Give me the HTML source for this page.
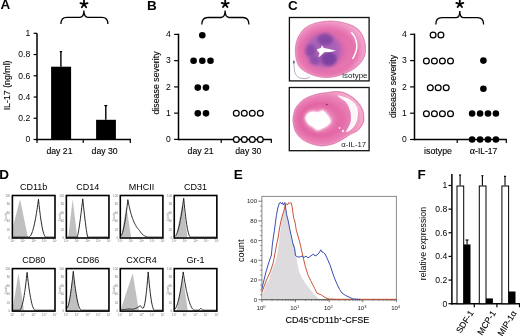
<!DOCTYPE html><html><head><meta charset="utf-8"><style>html,body{margin:0;padding:0;background:#fff;overflow:hidden;}svg{display:block;font-family:"Liberation Sans",sans-serif;will-change:transform;}</style></head><body><svg width="520" height="336" viewBox="0 0 520 336" font-family="Liberation Sans, sans-serif">
<rect width="520" height="336" fill="#fff"/>
<text x="0.60" y="9.40" font-size="13.5" text-anchor="start" font-weight="bold" fill="#000" >A</text>
<text x="147.10" y="9.60" font-size="13.5" text-anchor="start" font-weight="bold" fill="#000" >B</text>
<text x="288.10" y="9.60" font-size="13.5" text-anchor="start" font-weight="bold" fill="#000" >C</text>
<text x="-0.70" y="178.70" font-size="13.5" text-anchor="start" font-weight="bold" fill="#000" >D</text>
<text x="233.80" y="178.90" font-size="13.5" text-anchor="start" font-weight="bold" fill="#000" >E</text>
<text x="417.50" y="178.70" font-size="13.5" text-anchor="start" font-weight="bold" fill="#000" >F</text>
<line x1="37.00" y1="33.30" x2="37.00" y2="140.25" stroke="#000" stroke-width="1.5" />
<line x1="36.25" y1="139.50" x2="131.00" y2="139.50" stroke="#000" stroke-width="1.5" />
<line x1="33.60" y1="139.50" x2="37.00" y2="139.50" stroke="#000" stroke-width="1.2" />
<text x="30.30" y="142.30" font-size="8.6" text-anchor="end" font-weight="normal" fill="#000" >0</text>
<line x1="33.60" y1="118.26" x2="37.00" y2="118.26" stroke="#000" stroke-width="1.2" />
<text x="30.30" y="121.06" font-size="8.6" text-anchor="end" font-weight="normal" fill="#000" >0.2</text>
<line x1="33.60" y1="97.02" x2="37.00" y2="97.02" stroke="#000" stroke-width="1.2" />
<text x="30.30" y="99.82" font-size="8.6" text-anchor="end" font-weight="normal" fill="#000" >0.4</text>
<line x1="33.60" y1="75.78" x2="37.00" y2="75.78" stroke="#000" stroke-width="1.2" />
<text x="30.30" y="78.58" font-size="8.6" text-anchor="end" font-weight="normal" fill="#000" >0.6</text>
<line x1="33.60" y1="54.54" x2="37.00" y2="54.54" stroke="#000" stroke-width="1.2" />
<text x="30.30" y="57.34" font-size="8.6" text-anchor="end" font-weight="normal" fill="#000" >0.8</text>
<line x1="33.60" y1="33.30" x2="37.00" y2="33.30" stroke="#000" stroke-width="1.2" />
<text x="30.30" y="36.10" font-size="8.6" text-anchor="end" font-weight="normal" fill="#000" >1</text>
<line x1="37.00" y1="139.50" x2="37.00" y2="143.00" stroke="#000" stroke-width="1.2" />
<line x1="83.20" y1="139.50" x2="83.20" y2="143.00" stroke="#000" stroke-width="1.2" />
<line x1="130.30" y1="139.50" x2="130.30" y2="143.00" stroke="#000" stroke-width="1.2" />
<rect x="51.10" y="66.70" width="20.00" height="72.80" fill="#000" stroke="none" stroke-width="0"/>
<rect x="96.10" y="119.80" width="19.80" height="19.70" fill="#000" stroke="none" stroke-width="0"/>
<line x1="60.90" y1="66.70" x2="60.90" y2="51.60" stroke="#000" stroke-width="1.4" />
<line x1="59.70" y1="51.60" x2="62.10" y2="51.60" stroke="#000" stroke-width="1.2" />
<line x1="105.80" y1="119.80" x2="105.80" y2="105.60" stroke="#000" stroke-width="1.4" />
<line x1="104.30" y1="105.60" x2="107.30" y2="105.60" stroke="#000" stroke-width="1.2" />
<text x="59.50" y="154.30" font-size="8.7" text-anchor="middle" font-weight="normal" fill="#000" stroke="#000" stroke-width="0.12">day 21</text>
<text x="104.60" y="154.30" font-size="8.7" text-anchor="middle" font-weight="normal" fill="#000" stroke="#000" stroke-width="0.12">day 30</text>
<text transform="translate(10.3,85.4) rotate(-90)" font-size="8.8" text-anchor="middle" stroke="#000" stroke-width="0.12">IL-17 (ng/ml)</text>
<path d="M60.90 24.00Q60.90 17.40 66.90 17.40L79.90 17.40Q83.90 17.40 83.90 10.60Q83.90 17.40 87.90 17.40L101.90 17.40Q107.90 17.40 107.90 24.00" stroke="#000" stroke-width="1.3" fill="none"/>
<path d="M84.00 4.20L84.00 0.50M84.00 4.20L80.48 3.06M84.00 4.20L87.52 3.06M84.00 4.20L81.83 7.19M84.00 4.20L86.17 7.19" stroke="#000" stroke-width="1.8" stroke-linecap="round" fill="none"/>
<line x1="178.50" y1="33.65" x2="178.50" y2="140.15" stroke="#000" stroke-width="1.5" />
<line x1="177.75" y1="139.40" x2="271.80" y2="139.40" stroke="#000" stroke-width="1.5" />
<line x1="174.10" y1="139.40" x2="178.50" y2="139.40" stroke="#000" stroke-width="1.2" />
<text x="170.80" y="142.20" font-size="8.6" text-anchor="end" font-weight="normal" fill="#000" >0</text>
<line x1="174.10" y1="113.15" x2="178.50" y2="113.15" stroke="#000" stroke-width="1.2" />
<text x="170.80" y="115.95" font-size="8.6" text-anchor="end" font-weight="normal" fill="#000" >1</text>
<line x1="174.10" y1="86.90" x2="178.50" y2="86.90" stroke="#000" stroke-width="1.2" />
<text x="170.80" y="89.70" font-size="8.6" text-anchor="end" font-weight="normal" fill="#000" >2</text>
<line x1="174.10" y1="60.65" x2="178.50" y2="60.65" stroke="#000" stroke-width="1.2" />
<text x="170.80" y="63.45" font-size="8.6" text-anchor="end" font-weight="normal" fill="#000" >3</text>
<line x1="174.10" y1="34.40" x2="178.50" y2="34.40" stroke="#000" stroke-width="1.2" />
<text x="170.80" y="37.20" font-size="8.6" text-anchor="end" font-weight="normal" fill="#000" >4</text>
<line x1="221.20" y1="139.40" x2="221.20" y2="142.90" stroke="#000" stroke-width="1.2" />
<line x1="271.30" y1="139.40" x2="271.30" y2="142.90" stroke="#000" stroke-width="1.2" />
<circle cx="202.30" cy="35.30" r="3.30" fill="#000" stroke="none" stroke-width="0"/>
<circle cx="193.60" cy="60.75" r="3.30" fill="#000" stroke="none" stroke-width="0"/>
<circle cx="202.30" cy="60.75" r="3.30" fill="#000" stroke="none" stroke-width="0"/>
<circle cx="210.50" cy="60.75" r="3.30" fill="#000" stroke="none" stroke-width="0"/>
<circle cx="197.80" cy="87.60" r="3.30" fill="#000" stroke="none" stroke-width="0"/>
<circle cx="206.00" cy="87.60" r="3.30" fill="#000" stroke="none" stroke-width="0"/>
<circle cx="197.80" cy="113.35" r="3.30" fill="#000" stroke="none" stroke-width="0"/>
<circle cx="206.00" cy="113.35" r="3.30" fill="#000" stroke="none" stroke-width="0"/>
<circle cx="236.30" cy="113.15" r="2.90" fill="#fff" stroke="#000" stroke-width="1.25"/>
<circle cx="236.30" cy="139.40" r="2.90" fill="#fff" stroke="#000" stroke-width="1.25"/>
<circle cx="244.30" cy="113.15" r="2.90" fill="#fff" stroke="#000" stroke-width="1.25"/>
<circle cx="244.30" cy="139.40" r="2.90" fill="#fff" stroke="#000" stroke-width="1.25"/>
<circle cx="252.30" cy="113.15" r="2.90" fill="#fff" stroke="#000" stroke-width="1.25"/>
<circle cx="252.30" cy="139.40" r="2.90" fill="#fff" stroke="#000" stroke-width="1.25"/>
<circle cx="260.30" cy="113.15" r="2.90" fill="#fff" stroke="#000" stroke-width="1.25"/>
<circle cx="260.30" cy="139.40" r="2.90" fill="#fff" stroke="#000" stroke-width="1.25"/>
<text x="200.60" y="154.00" font-size="8.7" text-anchor="middle" font-weight="normal" fill="#000" stroke="#000" stroke-width="0.12">day 21</text>
<text x="248.30" y="154.00" font-size="8.7" text-anchor="middle" font-weight="normal" fill="#000" stroke="#000" stroke-width="0.12">day 30</text>
<text transform="translate(159.1,83.0) rotate(-90)" font-size="8.8" text-anchor="middle" stroke="#000" stroke-width="0.12">disease severity</text>
<path d="M201.80 24.60Q201.80 17.50 207.80 17.50L221.10 17.50Q225.10 17.50 225.10 10.60Q225.10 17.50 229.10 17.50L242.90 17.50Q248.90 17.50 248.90 24.60" stroke="#000" stroke-width="1.3" fill="none"/>
<path d="M225.20 4.10L225.20 0.40M225.20 4.10L221.68 2.96M225.20 4.10L228.72 2.96M225.20 4.10L223.03 7.09M225.20 4.10L227.37 7.09" stroke="#000" stroke-width="1.8" stroke-linecap="round" fill="none"/>
<line x1="414.50" y1="33.55" x2="414.50" y2="140.25" stroke="#000" stroke-width="1.5" />
<line x1="413.75" y1="139.50" x2="506.80" y2="139.50" stroke="#000" stroke-width="1.5" />
<line x1="410.10" y1="139.50" x2="414.50" y2="139.50" stroke="#000" stroke-width="1.2" />
<text x="406.90" y="142.30" font-size="8.6" text-anchor="end" font-weight="normal" fill="#000" >0</text>
<line x1="410.10" y1="113.20" x2="414.50" y2="113.20" stroke="#000" stroke-width="1.2" />
<text x="406.90" y="116.00" font-size="8.6" text-anchor="end" font-weight="normal" fill="#000" >1</text>
<line x1="410.10" y1="86.90" x2="414.50" y2="86.90" stroke="#000" stroke-width="1.2" />
<text x="406.90" y="89.70" font-size="8.6" text-anchor="end" font-weight="normal" fill="#000" >2</text>
<line x1="410.10" y1="60.60" x2="414.50" y2="60.60" stroke="#000" stroke-width="1.2" />
<text x="406.90" y="63.40" font-size="8.6" text-anchor="end" font-weight="normal" fill="#000" >3</text>
<line x1="410.10" y1="34.30" x2="414.50" y2="34.30" stroke="#000" stroke-width="1.2" />
<text x="406.90" y="37.10" font-size="8.6" text-anchor="end" font-weight="normal" fill="#000" >4</text>
<line x1="457.20" y1="139.50" x2="457.20" y2="143.00" stroke="#000" stroke-width="1.2" />
<line x1="506.30" y1="139.50" x2="506.30" y2="143.00" stroke="#000" stroke-width="1.2" />
<circle cx="433.10" cy="35.10" r="2.90" fill="#fff" stroke="#000" stroke-width="1.25"/>
<circle cx="440.90" cy="35.10" r="2.90" fill="#fff" stroke="#000" stroke-width="1.25"/>
<circle cx="426.40" cy="60.90" r="2.90" fill="#fff" stroke="#000" stroke-width="1.25"/>
<circle cx="434.40" cy="60.90" r="2.90" fill="#fff" stroke="#000" stroke-width="1.25"/>
<circle cx="442.40" cy="60.90" r="2.90" fill="#fff" stroke="#000" stroke-width="1.25"/>
<circle cx="450.50" cy="60.90" r="2.90" fill="#fff" stroke="#000" stroke-width="1.25"/>
<circle cx="430.30" cy="87.70" r="2.90" fill="#fff" stroke="#000" stroke-width="1.25"/>
<circle cx="438.20" cy="87.70" r="2.90" fill="#fff" stroke="#000" stroke-width="1.25"/>
<circle cx="446.20" cy="87.70" r="2.90" fill="#fff" stroke="#000" stroke-width="1.25"/>
<circle cx="426.40" cy="113.70" r="2.90" fill="#fff" stroke="#000" stroke-width="1.25"/>
<circle cx="434.40" cy="113.70" r="2.90" fill="#fff" stroke="#000" stroke-width="1.25"/>
<circle cx="442.40" cy="113.70" r="2.90" fill="#fff" stroke="#000" stroke-width="1.25"/>
<circle cx="450.50" cy="113.70" r="2.90" fill="#fff" stroke="#000" stroke-width="1.25"/>
<circle cx="483.40" cy="60.60" r="3.30" fill="#000" stroke="none" stroke-width="0"/>
<circle cx="483.40" cy="88.80" r="3.30" fill="#000" stroke="none" stroke-width="0"/>
<circle cx="472.10" cy="113.50" r="3.30" fill="#000" stroke="none" stroke-width="0"/>
<circle cx="480.10" cy="113.50" r="3.30" fill="#000" stroke="none" stroke-width="0"/>
<circle cx="488.00" cy="113.50" r="3.30" fill="#000" stroke="none" stroke-width="0"/>
<circle cx="495.90" cy="113.50" r="3.30" fill="#000" stroke="none" stroke-width="0"/>
<circle cx="472.10" cy="139.50" r="3.30" fill="#000" stroke="none" stroke-width="0"/>
<circle cx="480.10" cy="139.50" r="3.30" fill="#000" stroke="none" stroke-width="0"/>
<circle cx="488.00" cy="139.50" r="3.30" fill="#000" stroke="none" stroke-width="0"/>
<circle cx="495.90" cy="139.50" r="3.30" fill="#000" stroke="none" stroke-width="0"/>
<text x="438.00" y="154.00" font-size="8.8" text-anchor="middle" font-weight="normal" fill="#000" stroke="#000" stroke-width="0.12">isotype</text>
<text x="483.6" y="154" font-size="8.5" text-anchor="middle" stroke="#000" stroke-width="0.12"><tspan font-family="Liberation Serif" font-size="10">α</tspan>-IL-17</text>
<text transform="translate(396.2,86.5) rotate(-90)" font-size="8.8" text-anchor="middle" stroke="#000" stroke-width="0.12">disease severity</text>
<path d="M435.80 24.40Q435.80 17.70 441.80 17.70L455.80 17.70Q459.80 17.70 459.80 11.00Q459.80 17.70 463.80 17.70L477.60 17.70Q483.60 17.70 483.60 24.40" stroke="#000" stroke-width="1.3" fill="none"/>
<path d="M459.80 4.10L459.80 0.40M459.80 4.10L456.28 2.96M459.80 4.10L463.32 2.96M459.80 4.10L457.63 7.09M459.80 4.10L461.97 7.09" stroke="#000" stroke-width="1.8" stroke-linecap="round" fill="none"/>
<defs><radialGradient id="pk1" cx="0.45" cy="0.52" r="0.55"><stop offset="0" stop-color="#cc5caa"/><stop offset="0.5" stop-color="#e26eae"/><stop offset="0.8" stop-color="#ec84ba"/><stop offset="1" stop-color="#f2a6cb"/></radialGradient><radialGradient id="pk2" cx="0.4" cy="0.52" r="0.6"><stop offset="0" stop-color="#f0a0c8"/><stop offset="0.3" stop-color="#ea80b6"/><stop offset="0.5" stop-color="#e46ca8"/><stop offset="0.72" stop-color="#ea80b6"/><stop offset="0.9" stop-color="#f0a0c6"/><stop offset="1" stop-color="#f4b4d4"/></radialGradient><filter id="bl" x="-50%" y="-50%" width="200%" height="200%"><feGaussianBlur stdDeviation="2.2"/></filter><filter id="bl1" x="-50%" y="-50%" width="200%" height="200%"><feGaussianBlur stdDeviation="1.3"/></filter><filter id="bl16" x="-50%" y="-50%" width="200%" height="200%"><feGaussianBlur stdDeviation="1.7"/></filter><filter id="bl05" x="-50%" y="-50%" width="200%" height="200%"><feGaussianBlur stdDeviation="0.5"/></filter></defs>
<rect x="289.40" y="17.50" width="79.70" height="63.40" fill="#fff" stroke="#111" stroke-width="1.3"/>
<path d="M331.90 21.30C337.46 21.47 344.08 22.83 348.60 24.40C353.12 25.97 356.40 27.93 359.00 30.70C361.60 33.47 363.17 37.45 364.20 41.00C365.23 44.55 365.47 48.92 365.20 52.00C364.93 55.08 363.70 57.42 362.60 59.50C361.50 61.58 360.22 62.88 358.60 64.50C356.98 66.12 354.97 67.85 352.90 69.20C350.83 70.55 348.43 71.63 346.20 72.60C343.97 73.57 341.78 74.33 339.50 75.00C337.22 75.67 334.75 76.23 332.50 76.60C330.25 76.97 328.18 77.22 326.00 77.20C323.82 77.18 321.92 77.03 319.40 76.50C316.88 75.97 313.43 74.98 310.90 74.00C308.37 73.02 306.12 71.90 304.20 70.60C302.28 69.30 300.67 68.05 299.40 66.20C298.13 64.35 297.23 62.12 296.60 59.50C295.97 56.88 295.67 53.00 295.60 50.50C295.53 48.00 295.70 46.77 296.20 44.50C296.70 42.23 297.17 39.55 298.60 36.90C300.03 34.25 302.03 30.85 304.80 28.60C307.57 26.35 310.73 24.62 315.25 23.40C319.77 22.18 326.34 21.13 331.90 21.30Z" fill="url(#pk1)" stroke="#f2a6ca" stroke-width="1.6"/>
<path d="M331.90 21.30C337.46 21.47 344.08 22.83 348.60 24.40C353.12 25.97 356.40 27.93 359.00 30.70C361.60 33.47 363.17 37.45 364.20 41.00C365.23 44.55 365.47 48.92 365.20 52.00C364.93 55.08 363.70 57.42 362.60 59.50C361.50 61.58 360.22 62.88 358.60 64.50C356.98 66.12 354.97 67.85 352.90 69.20C350.83 70.55 348.43 71.63 346.20 72.60C343.97 73.57 341.78 74.33 339.50 75.00C337.22 75.67 334.75 76.23 332.50 76.60C330.25 76.97 328.18 77.22 326.00 77.20C323.82 77.18 321.92 77.03 319.40 76.50C316.88 75.97 313.43 74.98 310.90 74.00C308.37 73.02 306.12 71.90 304.20 70.60C302.28 69.30 300.67 68.05 299.40 66.20C298.13 64.35 297.23 62.12 296.60 59.50C295.97 56.88 295.67 53.00 295.60 50.50C295.53 48.00 295.70 46.77 296.20 44.50C296.70 42.23 297.17 39.55 298.60 36.90C300.03 34.25 302.03 30.85 304.80 28.60C307.57 26.35 310.73 24.62 315.25 23.40C319.77 22.18 326.34 21.13 331.90 21.30Z" fill="none" stroke="#c86aa4" stroke-width="0.5"/>
<ellipse cx="328" cy="52" rx="27" ry="21" fill="none" stroke="#dc5c9e" stroke-width="5" opacity="0.45" filter="url(#bl)"/>
<ellipse cx="323.5" cy="50.5" rx="17.5" ry="16.8" fill="#a462ba" opacity="0.88" filter="url(#bl)"/>
<ellipse cx="325.2" cy="39.5" rx="7.8" ry="6" fill="#70389a" opacity="0.62" filter="url(#bl16)"/>
<ellipse cx="310.3" cy="50.5" rx="5.2" ry="6.2" fill="#70389a" opacity="0.55" filter="url(#bl16)"/>
<ellipse cx="329" cy="59" rx="7.8" ry="7" fill="#70389a" opacity="0.78" filter="url(#bl16)"/>
<ellipse cx="314.5" cy="60.5" rx="5" ry="4.6" fill="#70389a" opacity="0.5" filter="url(#bl16)"/>
<path d="M317 49.2 L320.9 48.1 L322 45.3 L323.8 47.9 L329.2 49.1 L335.9 50.8 L330.4 52 L324.4 52.2 L320.9 55.4 L318.3 57.3 L319.6 53.2 L317.4 50.8 Z" fill="#fff" filter="url(#bl05)"/>
<path d="M351.30 32.30C351.92 33.17 354.08 35.38 355.00 37.50C355.92 39.62 356.63 42.67 356.80 45.00C356.97 47.33 356.70 49.17 356.00 51.50C355.30 53.83 353.17 57.75 352.60 59.00" stroke="#fff" stroke-width="1.5" fill="none" filter="url(#bl05)"/>
<path d="M293.40 60.50C293.53 61.58 293.93 64.92 294.20 67.00C294.47 69.08 294.28 71.27 295.00 73.00C295.72 74.73 297.17 76.48 298.50 77.40C299.83 78.32 301.58 78.33 303.00 78.50C304.42 78.67 305.83 78.70 307.00 78.40C308.17 78.10 309.50 76.98 310.00 76.70" stroke="#9a88aa" stroke-width="0.7" fill="none"/>
<ellipse cx="293.9" cy="62" rx="0.9" ry="1.5" fill="#6a5a7a"/>
<text x="342.2" y="77.6" font-size="8" fill="#1a1a1a"><tspan fill="#1c4a40">is</tspan>otype</text>
<rect x="289.30" y="87.50" width="79.80" height="63.20" fill="#fff" stroke="#111" stroke-width="1.3"/>
<path d="M328.00 92.80C331.63 92.32 334.33 91.57 337.50 91.80C340.67 92.03 343.82 92.62 347.00 94.20C350.18 95.78 354.05 98.68 356.60 101.30C359.15 103.92 361.13 106.78 362.30 109.90C363.47 113.02 363.77 117.38 363.60 120.00C363.43 122.62 362.32 123.87 361.30 125.60C360.28 127.33 359.23 129.07 357.50 130.40C355.77 131.73 353.12 132.33 350.90 133.60C348.68 134.87 346.43 136.63 344.20 138.00C341.97 139.37 339.87 140.72 337.50 141.80C335.13 142.88 332.68 143.87 330.00 144.50C327.32 145.13 324.42 145.73 321.40 145.60C318.38 145.47 315.07 144.80 311.90 143.70C308.73 142.60 305.10 141.07 302.40 139.00C299.70 136.93 297.22 134.32 295.70 131.30C294.18 128.28 293.55 123.95 293.30 120.90C293.05 117.85 293.63 115.32 294.20 113.00C294.77 110.68 295.02 109.27 296.70 107.00C298.38 104.73 301.13 101.45 304.30 99.40C307.47 97.35 311.75 95.80 315.70 94.70C319.65 93.60 324.37 93.28 328.00 92.80Z" fill="url(#pk2)" stroke="#f2a4c8" stroke-width="1.6"/>
<path d="M328.00 92.80C331.63 92.32 334.33 91.57 337.50 91.80C340.67 92.03 343.82 92.62 347.00 94.20C350.18 95.78 354.05 98.68 356.60 101.30C359.15 103.92 361.13 106.78 362.30 109.90C363.47 113.02 363.77 117.38 363.60 120.00C363.43 122.62 362.32 123.87 361.30 125.60C360.28 127.33 359.23 129.07 357.50 130.40C355.77 131.73 353.12 132.33 350.90 133.60C348.68 134.87 346.43 136.63 344.20 138.00C341.97 139.37 339.87 140.72 337.50 141.80C335.13 142.88 332.68 143.87 330.00 144.50C327.32 145.13 324.42 145.73 321.40 145.60C318.38 145.47 315.07 144.80 311.90 143.70C308.73 142.60 305.10 141.07 302.40 139.00C299.70 136.93 297.22 134.32 295.70 131.30C294.18 128.28 293.55 123.95 293.30 120.90C293.05 117.85 293.63 115.32 294.20 113.00C294.77 110.68 295.02 109.27 296.70 107.00C298.38 104.73 301.13 101.45 304.30 99.40C307.47 97.35 311.75 95.80 315.70 94.70C319.65 93.60 324.37 93.28 328.00 92.80Z" fill="none" stroke="#cc5c96" stroke-width="0.5"/>
<ellipse cx="319" cy="120" rx="19" ry="15.5" fill="none" stroke="#dc5494" stroke-width="4" opacity="0.4" filter="url(#bl)"/>
<path d="M305.90 118.20C305.82 116.88 307.07 114.71 308.00 113.90C308.93 113.09 311.54 112.26 312.90 112.10C314.26 111.94 316.85 112.83 318.20 112.70C319.55 112.57 321.64 110.54 323.00 111.10C324.36 111.66 327.44 115.53 328.40 116.90C329.36 118.27 330.35 120.29 330.20 121.40C330.05 122.51 328.47 124.27 327.30 125.20C326.13 126.13 322.76 127.81 321.40 128.40C320.04 128.99 318.23 129.85 317.10 129.60C315.97 129.35 314.03 127.27 312.90 126.50C311.77 125.73 309.53 124.91 308.60 123.80C307.67 122.69 305.98 119.52 305.90 118.20Z" fill="#f8d0e4" stroke="#f8d0e4" stroke-width="3" filter="url(#bl1)"/>
<path d="M305.90 118.20C305.82 116.88 307.07 114.71 308.00 113.90C308.93 113.09 311.54 112.26 312.90 112.10C314.26 111.94 316.85 112.83 318.20 112.70C319.55 112.57 321.64 110.54 323.00 111.10C324.36 111.66 327.44 115.53 328.40 116.90C329.36 118.27 330.35 120.29 330.20 121.40C330.05 122.51 328.47 124.27 327.30 125.20C326.13 126.13 322.76 127.81 321.40 128.40C320.04 128.99 318.23 129.85 317.10 129.60C315.97 129.35 314.03 127.27 312.90 126.50C311.77 125.73 309.53 124.91 308.60 123.80C307.67 122.69 305.98 119.52 305.90 118.20Z" fill="#fff" stroke="#fff" stroke-width="0.8" filter="url(#bl05)"/>
<path d="M337.50 95.60C337.79 95.35 341.47 96.05 343.00 96.50C344.53 96.95 347.53 98.20 349.00 99.00C350.47 99.80 352.89 101.37 354.00 102.50C355.11 103.63 356.77 106.10 357.30 107.50C357.83 108.90 358.01 111.33 358.00 113.00C357.99 114.67 357.67 118.27 357.20 120.00C356.73 121.73 355.46 124.60 354.50 126.00C353.54 127.40 351.13 129.70 350.00 130.50C348.87 131.30 346.20 132.47 346.00 132.00C345.80 131.53 347.86 128.47 348.50 127.00C349.14 125.53 350.52 122.87 350.80 121.00C351.08 119.13 350.93 115.00 350.60 113.00C350.27 111.00 349.02 107.56 348.30 106.00C347.58 104.44 346.20 102.31 345.20 101.30C344.20 100.29 341.83 99.16 340.80 98.40C339.77 97.64 337.21 95.85 337.50 95.60Z" fill="#fdf6f9" filter="url(#bl05)"/>
<circle cx="343" cy="131" r="1.2" fill="#fbe4ee"/><circle cx="339.5" cy="128" r="0.9" fill="#fbe4ee"/>
<circle cx="326.8" cy="104.5" r="0.8" fill="#7a2050"/>
<text x="341.30" y="146.80" font-size="7.8" text-anchor="start" font-weight="normal" fill="#1a1a1a" >α-IL-17</text>
<text x="33.70" y="189.50" font-size="9" text-anchor="middle" font-weight="normal" fill="#000" >CD11b</text>
<path d="M13.30 225.05 L13.75 223.33 L14.21 221.62 L14.66 219.90 L15.11 218.18 L15.57 216.47 L16.02 214.75 L16.47 213.03 L16.93 211.32 L17.38 209.60 L17.83 207.88 L18.29 206.17 L18.36 205.89 L18.44 205.58 L18.52 205.27 L18.73 204.50 L18.74 204.45 L19.19 202.73 L19.34 202.18 L19.65 201.02 L19.95 199.87 L20.10 199.30 L20.11 199.25 L20.55 201.40 L20.93 203.23 L21.01 203.61 L21.05 203.83 L21.38 205.42 L21.46 205.82 L21.87 207.82 L21.91 208.04 L22.37 210.25 L22.82 212.46 L23.27 214.68 L23.73 216.89 L24.18 219.10 L24.63 221.32 L24.85 222.36 L25.09 223.53 L25.54 225.74 L25.99 227.96 L26.45 230.17 L26.90 232.39 L27.09 233.31 L27.35 234.60 L27.81 236.81 L28.26 237.10 L28.71 237.10 L28.80 237.10 L29.17 237.10 L29.62 237.10 L30.07 237.10 L30.53 237.10 L30.98 237.10 L31.43 237.10 L31.89 237.10 L32.34 237.10 L32.48 237.10 L32.79 237.10 L33.25 237.10 L33.70 237.10 L34.15 237.10 L34.61 237.10 L35.06 237.10 L35.51 237.10 L35.97 237.10 L36.42 237.10 L36.87 237.10 L37.33 237.10 L37.78 237.10 L38.23 237.10 L38.47 237.10 L38.69 237.10 L39.00 237.10 L39.14 237.10 L39.59 237.10 L40.05 237.10 L40.31 237.10 L40.50 237.10 L40.95 237.10 L41.41 237.10 L41.86 237.10 L42.31 237.10 L42.77 237.10 L43.22 237.10 L43.67 237.10 L44.13 237.10 L44.58 237.10 L45.03 237.10 L45.49 237.10 L45.94 237.10 L46.39 237.10 L46.85 237.10 L47.30 237.10 L47.75 237.10 L48.21 237.10 L48.66 237.10 L49.11 237.10 L49.57 237.10 L50.02 237.10 L50.47 237.10 L50.93 237.10 L51.38 237.10 L51.83 237.10 L52.29 237.10 L52.74 237.10 L53.19 237.10 L53.65 237.10 L54.10 237.10 L54.10 237.10 L13.30 237.10 Z" fill="#c0c0c0" stroke="none"/>
<path d="M13.30 237.10 L13.75 237.10 L14.21 237.10 L14.66 237.10 L15.11 237.10 L15.57 237.10 L16.02 237.10 L16.47 237.10 L16.93 237.10 L17.38 237.10 L17.83 237.10 L18.29 237.10 L18.36 237.10 L18.44 237.10 L18.52 237.10 L18.73 237.10 L18.74 237.10 L19.19 237.10 L19.34 237.10 L19.65 237.10 L19.95 237.10 L20.10 237.10 L20.11 237.10 L20.55 237.10 L20.93 237.10 L21.01 237.10 L21.05 237.10 L21.38 237.10 L21.46 237.10 L21.87 237.10 L21.91 237.10 L22.37 237.10 L22.82 237.10 L23.27 237.10 L23.73 237.10 L24.18 237.10 L24.63 237.10 L24.85 237.10 L25.09 237.10 L25.54 237.10 L25.99 237.10 L26.45 237.10 L26.90 237.10 L27.09 237.10 L27.35 237.10 L27.81 237.10 L28.26 237.10 L28.71 237.10 L28.80 237.09 L29.17 237.01 L29.62 236.75 L30.07 236.34 L30.53 235.76 L30.98 235.01 L31.43 234.11 L31.89 233.04 L32.34 231.82 L32.48 231.42 L32.79 230.43 L33.25 228.87 L33.70 227.16 L34.15 225.28 L34.61 223.24 L35.06 221.04 L35.51 218.68 L35.97 216.15 L36.42 213.46 L36.87 210.61 L37.33 207.60 L37.78 204.42 L38.23 201.08 L38.47 199.25 L38.69 201.36 L39.00 204.38 L39.14 205.64 L39.59 209.65 L40.05 213.38 L40.31 215.42 L40.50 216.84 L40.95 220.03 L41.41 222.95 L41.86 225.59 L42.31 227.96 L42.77 230.06 L43.22 231.89 L43.67 233.44 L44.13 234.71 L44.58 235.72 L45.03 236.45 L45.49 236.91 L45.94 237.10 L46.39 237.10 L46.85 237.10 L47.30 237.10 L47.75 237.10 L48.21 237.10 L48.66 237.10 L49.11 237.10 L49.57 237.10 L50.02 237.10 L50.47 237.10 L50.93 237.10 L51.38 237.10 L51.83 237.10 L52.29 237.10 L52.74 237.10 L53.19 237.10 L53.65 237.10 L54.10 237.10" fill="none" stroke="#111" stroke-width="0.9" stroke-linejoin="round"/>
<rect x="12.40" y="195.50" width="42.60" height="42.50" fill="none" stroke="#000" stroke-width="1.6"/>
<text x="10.20" y="239.10" font-size="3" text-anchor="end" fill="#777">0</text>
<text x="10.20" y="230.60" font-size="3" text-anchor="end" fill="#777">20</text>
<text x="10.20" y="222.10" font-size="3" text-anchor="end" fill="#777">40</text>
<text x="10.20" y="213.60" font-size="3" text-anchor="end" fill="#777">60</text>
<text x="10.20" y="205.10" font-size="3" text-anchor="end" fill="#777">80</text>
<text x="10.20" y="196.60" font-size="3" text-anchor="end" fill="#777">100</text>
<text x="12.40" y="242.40" font-size="3" text-anchor="middle" fill="#777">10<tspan dy="-1.1" font-size="2">0</tspan></text>
<text x="23.05" y="242.40" font-size="3" text-anchor="middle" fill="#777">10<tspan dy="-1.1" font-size="2">1</tspan></text>
<text x="33.70" y="242.40" font-size="3" text-anchor="middle" fill="#777">10<tspan dy="-1.1" font-size="2">2</tspan></text>
<text x="44.35" y="242.40" font-size="3" text-anchor="middle" fill="#777">10<tspan dy="-1.1" font-size="2">3</tspan></text>
<text x="55.00" y="242.40" font-size="3" text-anchor="middle" fill="#777">10<tspan dy="-1.1" font-size="2">4</tspan></text>
<text transform="translate(7.00,216.75) rotate(-90)" font-size="2.8" text-anchor="middle" fill="#888">Counts</text>
<text x="87.65" y="189.50" font-size="9" text-anchor="middle" font-weight="normal" fill="#000" >CD14</text>
<path d="M67.25 237.10 L67.70 237.10 L68.16 237.10 L68.61 233.54 L69.06 229.72 L69.52 225.90 L69.97 222.07 L70.42 218.25 L70.88 214.43 L71.33 210.60 L71.78 206.78 L72.24 202.96 L72.31 202.35 L72.39 201.66 L72.47 200.97 L72.68 199.25 L72.69 199.36 L73.14 203.12 L73.29 204.32 L73.60 206.87 L73.90 209.39 L74.05 210.63 L74.06 210.74 L74.50 214.38 L74.88 217.50 L74.96 218.14 L75.00 218.51 L75.33 221.22 L75.41 221.89 L75.82 225.27 L75.86 225.65 L76.32 229.40 L76.77 233.16 L77.22 236.91 L77.68 237.10 L78.13 237.10 L78.58 237.10 L78.80 237.10 L79.04 237.10 L79.49 237.10 L79.94 237.10 L80.40 237.10 L80.85 237.10 L81.04 237.10 L81.30 237.10 L81.76 237.10 L82.21 237.10 L82.66 237.10 L82.75 237.10 L83.12 237.10 L83.57 237.10 L84.02 237.10 L84.48 237.10 L84.93 237.10 L85.38 237.10 L85.84 237.10 L86.29 237.10 L86.43 237.10 L86.74 237.10 L87.20 237.10 L87.65 237.10 L88.10 237.10 L88.56 237.10 L89.01 237.10 L89.46 237.10 L89.92 237.10 L90.37 237.10 L90.82 237.10 L91.28 237.10 L91.73 237.10 L92.18 237.10 L92.42 237.10 L92.64 237.10 L92.95 237.10 L93.09 237.10 L93.54 237.10 L94.00 237.10 L94.26 237.10 L94.45 237.10 L94.90 237.10 L95.36 237.10 L95.81 237.10 L96.26 237.10 L96.72 237.10 L97.17 237.10 L97.62 237.10 L98.08 237.10 L98.53 237.10 L98.98 237.10 L99.44 237.10 L99.89 237.10 L100.34 237.10 L100.80 237.10 L101.25 237.10 L101.70 237.10 L102.16 237.10 L102.61 237.10 L103.06 237.10 L103.52 237.10 L103.97 237.10 L104.42 237.10 L104.88 237.10 L105.33 237.10 L105.78 237.10 L106.24 237.10 L106.69 237.10 L107.14 237.10 L107.60 237.10 L108.05 237.10 L108.05 237.10 L67.25 237.10 Z" fill="#c0c0c0" stroke="none"/>
<path d="M67.25 237.10 L67.70 237.10 L68.16 237.10 L68.61 237.10 L69.06 237.10 L69.52 237.10 L69.97 237.10 L70.42 237.10 L70.88 237.10 L71.33 237.10 L71.78 237.10 L72.24 237.10 L72.31 237.10 L72.39 237.10 L72.47 237.10 L72.68 237.10 L72.69 237.10 L73.14 237.10 L73.29 237.10 L73.60 237.10 L73.90 237.10 L74.05 237.10 L74.06 237.10 L74.50 237.10 L74.88 237.10 L74.96 237.10 L75.00 237.10 L75.33 237.10 L75.41 237.10 L75.82 237.10 L75.86 237.10 L76.32 237.10 L76.77 237.10 L77.22 237.08 L77.68 235.55 L78.13 233.38 L78.58 230.84 L78.80 229.56 L79.04 228.04 L79.49 225.03 L79.94 221.83 L80.40 218.46 L80.85 214.95 L81.04 213.43 L81.30 211.30 L81.76 207.53 L82.21 203.64 L82.66 199.65 L82.75 198.84 L83.12 202.43 L83.57 206.79 L84.02 211.01 L84.48 215.08 L84.93 218.98 L85.38 222.69 L85.84 226.20 L86.29 229.46 L86.43 230.38 L86.74 232.42 L87.20 234.99 L87.65 236.92 L88.10 237.10 L88.56 237.10 L89.01 237.10 L89.46 237.10 L89.92 237.10 L90.37 237.10 L90.82 237.10 L91.28 237.10 L91.73 237.10 L92.18 237.10 L92.42 237.10 L92.64 237.10 L92.95 237.10 L93.09 237.10 L93.54 237.10 L94.00 237.10 L94.26 237.10 L94.45 237.10 L94.90 237.10 L95.36 237.10 L95.81 237.10 L96.26 237.10 L96.72 237.10 L97.17 237.10 L97.62 237.10 L98.08 237.10 L98.53 237.10 L98.98 237.10 L99.44 237.10 L99.89 237.10 L100.34 237.10 L100.80 237.10 L101.25 237.10 L101.70 237.10 L102.16 237.10 L102.61 237.10 L103.06 237.10 L103.52 237.10 L103.97 237.10 L104.42 237.10 L104.88 237.10 L105.33 237.10 L105.78 237.10 L106.24 237.10 L106.69 237.10 L107.14 237.10 L107.60 237.10 L108.05 237.10" fill="none" stroke="#111" stroke-width="0.9" stroke-linejoin="round"/>
<rect x="66.35" y="195.50" width="42.60" height="42.50" fill="none" stroke="#000" stroke-width="1.6"/>
<text x="64.15" y="239.10" font-size="3" text-anchor="end" fill="#777">0</text>
<text x="64.15" y="230.60" font-size="3" text-anchor="end" fill="#777">20</text>
<text x="64.15" y="222.10" font-size="3" text-anchor="end" fill="#777">40</text>
<text x="64.15" y="213.60" font-size="3" text-anchor="end" fill="#777">60</text>
<text x="64.15" y="205.10" font-size="3" text-anchor="end" fill="#777">80</text>
<text x="64.15" y="196.60" font-size="3" text-anchor="end" fill="#777">100</text>
<text x="66.35" y="242.40" font-size="3" text-anchor="middle" fill="#777">10<tspan dy="-1.1" font-size="2">0</tspan></text>
<text x="77.00" y="242.40" font-size="3" text-anchor="middle" fill="#777">10<tspan dy="-1.1" font-size="2">1</tspan></text>
<text x="87.65" y="242.40" font-size="3" text-anchor="middle" fill="#777">10<tspan dy="-1.1" font-size="2">2</tspan></text>
<text x="98.30" y="242.40" font-size="3" text-anchor="middle" fill="#777">10<tspan dy="-1.1" font-size="2">3</tspan></text>
<text x="108.95" y="242.40" font-size="3" text-anchor="middle" fill="#777">10<tspan dy="-1.1" font-size="2">4</tspan></text>
<text transform="translate(60.95,216.75) rotate(-90)" font-size="2.8" text-anchor="middle" fill="#888">Counts</text>
<text x="141.60" y="189.50" font-size="9" text-anchor="middle" font-weight="normal" fill="#000" >MHCII</text>
<path d="M121.20 237.10 L121.65 235.27 L122.11 232.40 L122.56 229.54 L123.01 226.67 L123.47 223.81 L123.92 220.95 L124.37 218.08 L124.83 215.22 L125.28 212.35 L125.73 209.49 L126.19 206.63 L126.26 206.17 L126.34 206.68 L126.42 207.20 L126.63 208.49 L126.64 208.57 L127.09 211.44 L127.24 212.35 L127.55 214.30 L127.85 216.22 L128.00 217.17 L128.01 217.25 L128.45 220.03 L128.83 222.41 L128.91 222.89 L128.95 223.18 L129.28 225.24 L129.36 225.76 L129.77 228.34 L129.81 228.62 L130.27 231.49 L130.72 234.35 L131.17 237.10 L131.63 237.10 L132.08 237.10 L132.53 237.10 L132.75 237.10 L132.99 237.10 L133.44 237.10 L133.89 237.10 L134.35 237.10 L134.80 237.10 L134.99 237.10 L135.25 237.10 L135.71 237.10 L136.16 237.10 L136.61 237.10 L136.70 237.10 L137.07 237.10 L137.52 237.10 L137.97 237.10 L138.43 237.10 L138.88 237.10 L139.33 237.10 L139.79 237.10 L140.24 237.10 L140.38 237.10 L140.69 237.10 L141.15 237.10 L141.60 237.10 L142.05 237.10 L142.51 237.10 L142.96 237.10 L143.41 237.10 L143.87 237.10 L144.32 237.10 L144.77 237.10 L145.23 237.10 L145.68 237.10 L146.13 237.10 L146.37 237.10 L146.59 237.10 L146.90 237.10 L147.04 237.10 L147.49 237.10 L147.95 237.10 L148.21 237.10 L148.40 237.10 L148.85 237.10 L149.31 237.10 L149.76 237.10 L150.21 237.10 L150.67 237.10 L151.12 237.10 L151.57 237.10 L152.03 237.10 L152.48 237.10 L152.93 237.10 L153.39 237.10 L153.84 237.10 L154.29 237.10 L154.75 237.10 L155.20 237.10 L155.65 237.10 L156.11 237.10 L156.56 237.10 L157.01 237.10 L157.47 237.10 L157.92 237.10 L158.37 237.10 L158.83 237.10 L159.28 237.10 L159.73 237.10 L160.19 237.10 L160.64 237.10 L161.09 237.10 L161.55 237.10 L162.00 237.10 L162.00 237.10 L121.20 237.10 Z" fill="#c0c0c0" stroke="none"/>
<path d="M121.20 235.82 L121.65 234.93 L122.11 233.82 L122.56 232.47 L123.01 230.89 L123.47 229.08 L123.92 227.04 L124.37 224.77 L124.83 222.26 L125.28 219.53 L125.73 216.56 L126.19 213.37 L126.26 212.84 L126.34 212.23 L126.42 211.61 L126.63 210.05 L126.64 209.94 L127.09 206.28 L127.24 205.06 L127.55 202.39 L127.85 199.66 L128.00 200.48 L128.01 200.55 L128.45 202.86 L128.83 204.72 L128.91 205.09 L128.95 205.31 L129.28 206.81 L129.36 207.18 L129.77 208.94 L129.81 209.13 L130.27 210.95 L130.72 212.65 L131.17 214.24 L131.63 215.73 L132.08 217.12 L132.53 218.42 L132.75 219.01 L132.99 219.64 L133.44 220.78 L133.89 221.84 L134.35 222.83 L134.80 223.76 L134.99 224.14 L135.25 224.63 L135.71 225.44 L136.16 226.20 L136.61 226.91 L136.70 227.05 L137.07 227.58 L137.52 228.20 L137.97 228.78 L138.43 229.32 L138.88 229.82 L139.33 230.30 L139.79 230.92 L140.24 231.65 L140.38 231.86 L140.69 232.31 L141.15 232.91 L141.60 233.46 L142.05 233.95 L142.51 234.39 L142.96 234.79 L143.41 235.14 L143.87 235.46 L144.32 235.75 L144.77 236.01 L145.23 236.23 L145.68 236.44 L146.13 236.62 L146.37 236.71 L146.59 236.78 L146.90 236.88 L147.04 236.92 L147.49 237.04 L147.95 237.10 L148.21 237.10 L148.40 237.10 L148.85 237.10 L149.31 237.10 L149.76 237.10 L150.21 237.10 L150.67 237.10 L151.12 237.10 L151.57 237.10 L152.03 237.10 L152.48 237.10 L152.93 237.10 L153.39 237.10 L153.84 237.10 L154.29 237.10 L154.75 237.10 L155.20 237.10 L155.65 237.10 L156.11 237.10 L156.56 237.10 L157.01 237.10 L157.47 237.10 L157.92 237.10 L158.37 237.10 L158.83 237.10 L159.28 237.10 L159.73 237.10 L160.19 237.10 L160.64 237.10 L161.09 237.10 L161.55 237.10 L162.00 237.10" fill="none" stroke="#111" stroke-width="0.9" stroke-linejoin="round"/>
<rect x="120.30" y="195.50" width="42.60" height="42.50" fill="none" stroke="#000" stroke-width="1.6"/>
<text x="118.10" y="239.10" font-size="3" text-anchor="end" fill="#777">0</text>
<text x="118.10" y="230.60" font-size="3" text-anchor="end" fill="#777">20</text>
<text x="118.10" y="222.10" font-size="3" text-anchor="end" fill="#777">40</text>
<text x="118.10" y="213.60" font-size="3" text-anchor="end" fill="#777">60</text>
<text x="118.10" y="205.10" font-size="3" text-anchor="end" fill="#777">80</text>
<text x="118.10" y="196.60" font-size="3" text-anchor="end" fill="#777">100</text>
<text x="120.30" y="242.40" font-size="3" text-anchor="middle" fill="#777">10<tspan dy="-1.1" font-size="2">0</tspan></text>
<text x="130.95" y="242.40" font-size="3" text-anchor="middle" fill="#777">10<tspan dy="-1.1" font-size="2">1</tspan></text>
<text x="141.60" y="242.40" font-size="3" text-anchor="middle" fill="#777">10<tspan dy="-1.1" font-size="2">2</tspan></text>
<text x="152.25" y="242.40" font-size="3" text-anchor="middle" fill="#777">10<tspan dy="-1.1" font-size="2">3</tspan></text>
<text x="162.90" y="242.40" font-size="3" text-anchor="middle" fill="#777">10<tspan dy="-1.1" font-size="2">4</tspan></text>
<text transform="translate(114.90,216.75) rotate(-90)" font-size="2.8" text-anchor="middle" fill="#888">Counts</text>
<text x="195.55" y="189.50" font-size="9" text-anchor="middle" font-weight="normal" fill="#000" >CD31</text>
<path d="M175.15 237.10 L175.60 237.10 L176.06 236.63 L176.51 234.27 L176.96 231.92 L177.42 229.57 L177.87 227.21 L178.32 224.86 L178.78 222.50 L179.23 220.15 L179.68 217.80 L180.14 215.44 L180.21 215.06 L180.29 214.64 L180.37 214.22 L180.58 213.16 L180.59 213.09 L181.04 210.73 L181.19 209.98 L181.50 208.38 L181.80 206.80 L181.95 206.02 L181.96 205.95 L182.40 203.67 L182.78 201.72 L182.86 201.32 L182.90 201.08 L183.23 203.70 L183.31 204.36 L183.72 207.63 L183.76 207.99 L184.22 211.63 L184.67 215.27 L185.12 218.91 L185.58 222.55 L186.03 226.19 L186.48 229.82 L186.70 231.53 L186.94 233.46 L187.39 237.10 L187.84 237.10 L188.30 237.10 L188.75 237.10 L188.94 237.10 L189.20 237.10 L189.66 237.10 L190.11 237.10 L190.56 237.10 L190.65 237.10 L191.02 237.10 L191.47 237.10 L191.92 237.10 L192.38 237.10 L192.83 237.10 L193.28 237.10 L193.74 237.10 L194.19 237.10 L194.33 237.10 L194.64 237.10 L195.10 237.10 L195.55 237.10 L196.00 237.10 L196.46 237.10 L196.91 237.10 L197.36 237.10 L197.82 237.10 L198.27 237.10 L198.72 237.10 L199.18 237.10 L199.63 237.10 L200.08 237.10 L200.32 237.10 L200.54 237.10 L200.85 237.10 L200.99 237.10 L201.44 237.10 L201.90 237.10 L202.16 237.10 L202.35 237.10 L202.80 237.10 L203.26 237.10 L203.71 237.10 L204.16 237.10 L204.62 237.10 L205.07 237.10 L205.52 237.10 L205.98 237.10 L206.43 237.10 L206.88 237.10 L207.34 237.10 L207.79 237.10 L208.24 237.10 L208.70 237.10 L209.15 237.10 L209.60 237.10 L210.06 237.10 L210.51 237.10 L210.96 237.10 L211.42 237.10 L211.87 237.10 L212.32 237.10 L212.78 237.10 L213.23 237.10 L213.68 237.10 L214.14 237.10 L214.59 237.10 L215.04 237.10 L215.50 237.10 L215.95 237.10 L215.95 237.10 L175.15 237.10 Z" fill="#c0c0c0" stroke="none"/>
<path d="M175.15 236.49 L175.60 235.96 L176.06 235.26 L176.51 234.39 L176.96 233.36 L177.42 232.16 L177.87 230.79 L178.32 229.26 L178.78 227.56 L179.23 225.70 L179.68 223.66 L180.14 221.46 L180.21 221.10 L180.29 220.68 L180.37 220.25 L180.58 219.17 L180.59 219.10 L181.04 216.57 L181.19 215.72 L181.50 213.87 L181.80 211.96 L181.95 211.00 L181.96 210.91 L182.40 207.97 L182.78 205.32 L182.86 204.77 L182.90 204.44 L183.23 202.02 L183.31 201.40 L183.72 198.23 L183.76 198.74 L184.22 203.62 L184.67 208.17 L185.12 212.39 L185.58 216.27 L186.03 219.83 L186.48 223.05 L186.70 224.45 L186.94 225.94 L187.39 228.49 L187.84 230.72 L188.30 232.61 L188.75 234.17 L188.94 234.73 L189.20 235.40 L189.66 236.30 L190.11 236.86 L190.56 237.09 L190.65 237.10 L191.02 237.10 L191.47 237.10 L191.92 237.10 L192.38 237.10 L192.83 237.10 L193.28 237.10 L193.74 237.10 L194.19 237.10 L194.33 237.10 L194.64 237.10 L195.10 237.10 L195.55 237.10 L196.00 237.10 L196.46 237.10 L196.91 237.10 L197.36 237.10 L197.82 237.10 L198.27 237.10 L198.72 237.10 L199.18 237.10 L199.63 237.10 L200.08 237.10 L200.32 237.10 L200.54 237.10 L200.85 237.10 L200.99 237.10 L201.44 237.10 L201.90 237.10 L202.16 237.10 L202.35 237.10 L202.80 237.10 L203.26 237.10 L203.71 237.10 L204.16 237.10 L204.62 237.10 L205.07 237.10 L205.52 237.10 L205.98 237.10 L206.43 237.10 L206.88 237.10 L207.34 237.10 L207.79 237.10 L208.24 237.10 L208.70 237.10 L209.15 237.10 L209.60 237.10 L210.06 237.10 L210.51 237.10 L210.96 237.10 L211.42 237.10 L211.87 237.10 L212.32 237.10 L212.78 237.10 L213.23 237.10 L213.68 237.10 L214.14 237.10 L214.59 237.10 L215.04 237.10 L215.50 237.10 L215.95 237.10" fill="none" stroke="#111" stroke-width="0.9" stroke-linejoin="round"/>
<rect x="174.25" y="195.50" width="42.60" height="42.50" fill="none" stroke="#000" stroke-width="1.6"/>
<text x="172.05" y="239.10" font-size="3" text-anchor="end" fill="#777">0</text>
<text x="172.05" y="230.60" font-size="3" text-anchor="end" fill="#777">20</text>
<text x="172.05" y="222.10" font-size="3" text-anchor="end" fill="#777">40</text>
<text x="172.05" y="213.60" font-size="3" text-anchor="end" fill="#777">60</text>
<text x="172.05" y="205.10" font-size="3" text-anchor="end" fill="#777">80</text>
<text x="172.05" y="196.60" font-size="3" text-anchor="end" fill="#777">100</text>
<text x="174.25" y="242.40" font-size="3" text-anchor="middle" fill="#777">10<tspan dy="-1.1" font-size="2">0</tspan></text>
<text x="184.90" y="242.40" font-size="3" text-anchor="middle" fill="#777">10<tspan dy="-1.1" font-size="2">1</tspan></text>
<text x="195.55" y="242.40" font-size="3" text-anchor="middle" fill="#777">10<tspan dy="-1.1" font-size="2">2</tspan></text>
<text x="206.20" y="242.40" font-size="3" text-anchor="middle" fill="#777">10<tspan dy="-1.1" font-size="2">3</tspan></text>
<text x="216.85" y="242.40" font-size="3" text-anchor="middle" fill="#777">10<tspan dy="-1.1" font-size="2">4</tspan></text>
<text transform="translate(168.85,216.75) rotate(-90)" font-size="2.8" text-anchor="middle" fill="#888">Counts</text>
<text x="33.70" y="262.60" font-size="9" text-anchor="middle" font-weight="normal" fill="#000" >CD80</text>
<path d="M13.30 304.77 L13.75 302.02 L14.21 299.28 L14.66 296.54 L15.11 293.79 L15.57 291.05 L16.02 288.31 L16.47 285.56 L16.93 282.82 L17.38 280.08 L17.83 277.33 L18.29 274.59 L18.36 274.15 L18.44 273.66 L18.52 273.16 L18.73 274.59 L18.74 274.68 L19.19 277.85 L19.34 278.86 L19.65 281.01 L19.95 283.13 L20.10 284.18 L20.11 284.27 L20.55 287.34 L20.93 289.97 L21.01 290.51 L21.05 290.83 L21.38 293.11 L21.46 293.68 L21.87 296.52 L21.91 296.84 L22.37 300.01 L22.82 303.17 L23.27 306.34 L23.73 309.50 L24.18 310.20 L24.63 310.20 L24.85 310.20 L25.09 310.20 L25.54 310.20 L25.99 310.20 L26.45 310.20 L26.90 310.20 L27.09 310.20 L27.35 310.20 L27.81 310.20 L28.26 310.20 L28.71 310.20 L28.80 310.20 L29.17 310.20 L29.62 310.20 L30.07 310.20 L30.53 310.20 L30.98 310.20 L31.43 310.20 L31.89 310.20 L32.34 310.20 L32.48 310.20 L32.79 310.20 L33.25 310.20 L33.70 310.20 L34.15 310.20 L34.61 310.20 L35.06 310.20 L35.51 310.20 L35.97 310.20 L36.42 310.20 L36.87 310.20 L37.33 310.20 L37.78 310.20 L38.23 310.20 L38.47 310.20 L38.69 310.20 L39.00 310.20 L39.14 310.20 L39.59 310.20 L40.05 310.20 L40.31 310.20 L40.50 310.20 L40.95 310.20 L41.41 310.20 L41.86 310.20 L42.31 310.20 L42.77 310.20 L43.22 310.20 L43.67 310.20 L44.13 310.20 L44.58 310.20 L45.03 310.20 L45.49 310.20 L45.94 310.20 L46.39 310.20 L46.85 310.20 L47.30 310.20 L47.75 310.20 L48.21 310.20 L48.66 310.20 L49.11 310.20 L49.57 310.20 L50.02 310.20 L50.47 310.20 L50.93 310.20 L51.38 310.20 L51.83 310.20 L52.29 310.20 L52.74 310.20 L53.19 310.20 L53.65 310.20 L54.10 310.20 L54.10 310.20 L13.30 310.20 Z" fill="#c0c0c0" stroke="none"/>
<path d="M13.30 310.20 L13.75 310.20 L14.21 310.20 L14.66 310.20 L15.11 310.20 L15.57 310.20 L16.02 310.20 L16.47 310.20 L16.93 310.20 L17.38 310.20 L17.83 310.20 L18.29 310.20 L18.36 310.20 L18.44 310.20 L18.52 310.20 L18.73 310.20 L18.74 310.20 L19.19 310.20 L19.34 310.20 L19.65 310.14 L19.95 309.96 L20.10 309.83 L20.11 309.82 L20.55 309.27 L20.93 308.61 L21.01 308.45 L21.05 308.35 L21.38 307.58 L21.46 307.36 L21.87 306.17 L21.91 306.02 L22.37 304.42 L22.82 302.57 L23.27 300.45 L23.73 298.07 L24.18 295.44 L24.63 292.54 L24.85 291.09 L25.09 289.39 L25.54 285.98 L25.99 282.30 L26.45 278.37 L26.90 274.19 L27.09 272.35 L27.35 274.75 L27.81 278.70 L28.26 282.42 L28.71 285.91 L28.80 286.58 L29.17 289.16 L29.62 292.18 L30.07 294.96 L30.53 297.52 L30.98 299.83 L31.43 301.92 L31.89 303.77 L32.34 305.38 L32.48 305.82 L32.79 306.77 L33.25 307.92 L33.70 308.83 L34.15 309.52 L34.61 309.96 L35.06 310.18 L35.51 310.20 L35.97 310.20 L36.42 310.20 L36.87 310.20 L37.33 310.20 L37.78 310.20 L38.23 310.20 L38.47 310.20 L38.69 310.20 L39.00 310.20 L39.14 310.20 L39.59 310.20 L40.05 310.20 L40.31 310.20 L40.50 310.20 L40.95 310.20 L41.41 310.20 L41.86 310.20 L42.31 310.20 L42.77 310.20 L43.22 310.20 L43.67 310.20 L44.13 310.20 L44.58 310.20 L45.03 310.20 L45.49 310.20 L45.94 310.20 L46.39 310.20 L46.85 310.20 L47.30 310.20 L47.75 310.20 L48.21 310.20 L48.66 310.20 L49.11 310.20 L49.57 310.20 L50.02 310.20 L50.47 310.20 L50.93 310.20 L51.38 310.20 L51.83 310.20 L52.29 310.20 L52.74 310.20 L53.19 310.20 L53.65 310.20 L54.10 310.20" fill="none" stroke="#111" stroke-width="0.9" stroke-linejoin="round"/>
<rect x="12.40" y="268.60" width="42.60" height="42.50" fill="none" stroke="#000" stroke-width="1.6"/>
<text x="10.20" y="312.20" font-size="3" text-anchor="end" fill="#777">0</text>
<text x="10.20" y="303.70" font-size="3" text-anchor="end" fill="#777">20</text>
<text x="10.20" y="295.20" font-size="3" text-anchor="end" fill="#777">40</text>
<text x="10.20" y="286.70" font-size="3" text-anchor="end" fill="#777">60</text>
<text x="10.20" y="278.20" font-size="3" text-anchor="end" fill="#777">80</text>
<text x="10.20" y="269.70" font-size="3" text-anchor="end" fill="#777">100</text>
<text x="12.40" y="315.50" font-size="3" text-anchor="middle" fill="#777">10<tspan dy="-1.1" font-size="2">0</tspan></text>
<text x="23.05" y="315.50" font-size="3" text-anchor="middle" fill="#777">10<tspan dy="-1.1" font-size="2">1</tspan></text>
<text x="33.70" y="315.50" font-size="3" text-anchor="middle" fill="#777">10<tspan dy="-1.1" font-size="2">2</tspan></text>
<text x="44.35" y="315.50" font-size="3" text-anchor="middle" fill="#777">10<tspan dy="-1.1" font-size="2">3</tspan></text>
<text x="55.00" y="315.50" font-size="3" text-anchor="middle" fill="#777">10<tspan dy="-1.1" font-size="2">4</tspan></text>
<text transform="translate(7.00,289.85) rotate(-90)" font-size="2.8" text-anchor="middle" fill="#888">Counts</text>
<text x="87.65" y="262.60" font-size="9" text-anchor="middle" font-weight="normal" fill="#000" >CD86</text>
<path d="M67.25 310.20 L67.70 309.89 L68.16 306.83 L68.61 303.77 L69.06 300.71 L69.52 297.65 L69.97 294.59 L70.42 291.53 L70.88 288.47 L71.33 285.40 L71.78 282.34 L72.24 279.28 L72.31 278.79 L72.39 278.24 L72.47 277.69 L72.68 276.31 L72.69 276.22 L73.14 275.45 L73.29 276.29 L73.60 278.10 L73.90 279.88 L74.05 280.75 L74.06 280.83 L74.50 283.40 L74.88 285.61 L74.96 286.06 L75.00 286.32 L75.33 288.23 L75.41 288.71 L75.82 291.10 L75.86 291.36 L76.32 294.02 L76.77 296.67 L77.22 299.32 L77.68 301.98 L78.13 304.63 L78.58 307.28 L78.80 308.53 L79.04 309.93 L79.49 310.20 L79.94 310.20 L80.40 310.20 L80.85 310.20 L81.04 310.20 L81.30 310.20 L81.76 310.20 L82.21 310.20 L82.66 310.20 L82.75 310.20 L83.12 310.20 L83.57 310.20 L84.02 310.20 L84.48 310.20 L84.93 310.20 L85.38 310.20 L85.84 310.20 L86.29 310.20 L86.43 310.20 L86.74 310.20 L87.20 310.20 L87.65 310.20 L88.10 310.20 L88.56 310.20 L89.01 310.20 L89.46 310.20 L89.92 310.20 L90.37 310.20 L90.82 310.20 L91.28 310.20 L91.73 310.20 L92.18 310.20 L92.42 310.20 L92.64 310.20 L92.95 310.20 L93.09 310.20 L93.54 310.20 L94.00 310.20 L94.26 310.20 L94.45 310.20 L94.90 310.20 L95.36 310.20 L95.81 310.20 L96.26 310.20 L96.72 310.20 L97.17 310.20 L97.62 310.20 L98.08 310.20 L98.53 310.20 L98.98 310.20 L99.44 310.20 L99.89 310.20 L100.34 310.20 L100.80 310.20 L101.25 310.20 L101.70 310.20 L102.16 310.20 L102.61 310.20 L103.06 310.20 L103.52 310.20 L103.97 310.20 L104.42 310.20 L104.88 310.20 L105.33 310.20 L105.78 310.20 L106.24 310.20 L106.69 310.20 L107.14 310.20 L107.60 310.20 L108.05 310.20 L108.05 310.20 L67.25 310.20 Z" fill="#c0c0c0" stroke="none"/>
<path d="M67.25 308.30 L67.70 307.16 L68.16 305.76 L68.61 304.09 L69.06 302.15 L69.52 299.95 L69.97 297.49 L70.42 294.75 L70.88 291.75 L71.33 288.49 L71.78 284.96 L72.24 281.16 L72.31 280.53 L72.39 279.81 L72.47 279.08 L72.68 277.23 L72.69 277.10 L73.14 272.77 L73.29 271.33 L73.60 274.21 L73.90 276.94 L74.05 278.25 L74.06 278.37 L74.50 282.04 L74.88 285.01 L74.96 285.60 L75.00 285.94 L75.33 288.34 L75.41 288.92 L75.82 291.69 L75.86 291.99 L76.32 294.83 L76.77 297.42 L77.22 299.78 L77.68 301.90 L78.13 303.77 L78.58 305.41 L78.80 306.09 L79.04 306.80 L79.49 307.96 L79.94 308.88 L80.40 309.55 L80.85 309.99 L81.04 310.10 L81.30 310.19 L81.76 310.20 L82.21 310.20 L82.66 310.20 L82.75 310.20 L83.12 310.20 L83.57 310.20 L84.02 310.20 L84.48 310.20 L84.93 310.20 L85.38 310.20 L85.84 310.20 L86.29 310.20 L86.43 310.20 L86.74 310.20 L87.20 310.20 L87.65 310.20 L88.10 310.20 L88.56 310.20 L89.01 310.20 L89.46 310.20 L89.92 310.20 L90.37 310.20 L90.82 310.20 L91.28 310.20 L91.73 310.20 L92.18 310.20 L92.42 310.20 L92.64 310.20 L92.95 310.20 L93.09 310.20 L93.54 310.20 L94.00 310.20 L94.26 310.20 L94.45 310.20 L94.90 310.20 L95.36 310.20 L95.81 310.20 L96.26 310.20 L96.72 310.20 L97.17 310.20 L97.62 310.20 L98.08 310.20 L98.53 310.20 L98.98 310.20 L99.44 310.20 L99.89 310.20 L100.34 310.20 L100.80 310.20 L101.25 310.20 L101.70 310.20 L102.16 310.20 L102.61 310.20 L103.06 310.20 L103.52 310.20 L103.97 310.20 L104.42 310.20 L104.88 310.20 L105.33 310.20 L105.78 310.20 L106.24 310.20 L106.69 310.20 L107.14 310.20 L107.60 310.20 L108.05 310.20" fill="none" stroke="#111" stroke-width="0.9" stroke-linejoin="round"/>
<rect x="66.35" y="268.60" width="42.60" height="42.50" fill="none" stroke="#000" stroke-width="1.6"/>
<text x="64.15" y="312.20" font-size="3" text-anchor="end" fill="#777">0</text>
<text x="64.15" y="303.70" font-size="3" text-anchor="end" fill="#777">20</text>
<text x="64.15" y="295.20" font-size="3" text-anchor="end" fill="#777">40</text>
<text x="64.15" y="286.70" font-size="3" text-anchor="end" fill="#777">60</text>
<text x="64.15" y="278.20" font-size="3" text-anchor="end" fill="#777">80</text>
<text x="64.15" y="269.70" font-size="3" text-anchor="end" fill="#777">100</text>
<text x="66.35" y="315.50" font-size="3" text-anchor="middle" fill="#777">10<tspan dy="-1.1" font-size="2">0</tspan></text>
<text x="77.00" y="315.50" font-size="3" text-anchor="middle" fill="#777">10<tspan dy="-1.1" font-size="2">1</tspan></text>
<text x="87.65" y="315.50" font-size="3" text-anchor="middle" fill="#777">10<tspan dy="-1.1" font-size="2">2</tspan></text>
<text x="98.30" y="315.50" font-size="3" text-anchor="middle" fill="#777">10<tspan dy="-1.1" font-size="2">3</tspan></text>
<text x="108.95" y="315.50" font-size="3" text-anchor="middle" fill="#777">10<tspan dy="-1.1" font-size="2">4</tspan></text>
<text transform="translate(60.95,289.85) rotate(-90)" font-size="2.8" text-anchor="middle" fill="#888">Counts</text>
<text x="141.60" y="262.60" font-size="9" text-anchor="middle" font-weight="normal" fill="#000" >CXCR4</text>
<path d="M121.20 308.10 L121.65 306.73 L122.11 305.36 L122.56 303.99 L123.01 302.61 L123.47 301.24 L123.92 299.87 L124.37 298.50 L124.83 297.13 L125.28 295.76 L125.73 294.38 L126.19 293.01 L126.26 292.79 L126.34 292.55 L126.42 292.30 L126.63 291.68 L126.64 291.64 L127.09 290.27 L127.24 289.83 L127.55 288.90 L127.85 287.98 L128.00 287.53 L128.01 287.48 L128.45 286.15 L128.83 285.01 L128.91 284.78 L128.95 284.64 L129.28 283.66 L129.36 283.41 L129.77 282.18 L129.81 282.04 L130.27 280.67 L130.72 279.29 L131.17 277.92 L131.63 276.55 L132.08 275.18 L132.53 273.81 L132.75 273.16 L132.99 274.65 L133.44 277.45 L133.89 280.25 L134.35 283.05 L134.80 285.84 L134.99 287.02 L135.25 288.64 L135.71 291.44 L136.16 294.24 L136.61 297.04 L136.70 297.60 L137.07 299.84 L137.52 302.64 L137.97 305.44 L138.43 308.24 L138.88 310.20 L139.33 310.20 L139.79 310.20 L140.24 310.20 L140.38 310.20 L140.69 310.20 L141.15 310.20 L141.60 310.20 L142.05 310.20 L142.51 310.20 L142.96 310.20 L143.41 310.20 L143.87 310.20 L144.32 310.20 L144.77 310.20 L145.23 310.20 L145.68 310.20 L146.13 310.20 L146.37 310.20 L146.59 310.20 L146.90 310.20 L147.04 310.20 L147.49 310.20 L147.95 310.20 L148.21 310.20 L148.40 310.20 L148.85 310.20 L149.31 310.20 L149.76 310.20 L150.21 310.20 L150.67 310.20 L151.12 310.20 L151.57 310.20 L152.03 310.20 L152.48 310.20 L152.93 310.20 L153.39 310.20 L153.84 310.20 L154.29 310.20 L154.75 310.20 L155.20 310.20 L155.65 310.20 L156.11 310.20 L156.56 310.20 L157.01 310.20 L157.47 310.20 L157.92 310.20 L158.37 310.20 L158.83 310.20 L159.28 310.20 L159.73 310.20 L160.19 310.20 L160.64 310.20 L161.09 310.20 L161.55 310.20 L162.00 310.20 L162.00 310.20 L121.20 310.20 Z" fill="#c0c0c0" stroke="none"/>
<path d="M121.20 309.79 L121.65 309.75 L122.11 309.70 L122.56 309.66 L123.01 309.61 L123.47 309.57 L123.92 309.52 L124.37 309.48 L124.83 309.43 L125.28 309.39 L125.73 309.34 L126.19 309.30 L126.26 309.29 L126.34 309.28 L126.42 309.27 L126.63 309.25 L126.64 309.25 L127.09 309.21 L127.24 309.19 L127.55 309.16 L127.85 309.13 L128.00 309.11 L128.01 309.11 L128.45 309.07 L128.83 309.03 L128.91 309.02 L128.95 309.02 L129.28 308.99 L129.36 308.98 L129.77 309.02 L129.81 309.02 L130.27 309.07 L130.72 309.11 L131.17 309.16 L131.63 309.21 L132.08 309.25 L132.53 309.26 L132.75 309.24 L132.99 309.21 L133.44 309.13 L133.89 309.01 L134.35 308.88 L134.80 308.72 L134.99 308.65 L135.25 308.55 L135.71 308.36 L136.16 308.15 L136.61 307.93 L136.70 307.89 L137.07 307.70 L137.52 307.45 L137.97 307.18 L138.43 306.91 L138.88 306.62 L139.33 306.33 L139.79 306.02 L140.24 305.70 L140.38 305.60 L140.69 306.06 L141.15 306.69 L141.60 307.29 L142.05 307.81 L142.51 308.28 L142.96 308.36 L143.41 307.94 L143.87 307.01 L144.32 305.57 L144.77 303.59 L145.23 301.06 L145.68 297.93 L146.13 294.33 L146.37 292.23 L146.59 290.27 L146.90 287.15 L147.04 285.74 L147.49 280.76 L147.95 275.31 L148.21 271.94 L148.40 274.23 L148.85 279.38 L149.31 284.14 L149.76 288.49 L150.21 292.45 L150.67 296.01 L151.12 299.18 L151.57 301.94 L152.03 304.31 L152.48 306.27 L152.93 307.84 L153.39 309.01 L153.84 309.79 L154.29 310.16 L154.75 310.20 L155.20 310.20 L155.65 310.20 L156.11 310.20 L156.56 310.20 L157.01 310.20 L157.47 310.20 L157.92 310.20 L158.37 310.20 L158.83 310.20 L159.28 310.20 L159.73 310.20 L160.19 310.20 L160.64 310.20 L161.09 310.20 L161.55 310.20 L162.00 310.20" fill="none" stroke="#111" stroke-width="0.9" stroke-linejoin="round"/>
<rect x="120.30" y="268.60" width="42.60" height="42.50" fill="none" stroke="#000" stroke-width="1.6"/>
<text x="118.10" y="312.20" font-size="3" text-anchor="end" fill="#777">0</text>
<text x="118.10" y="303.70" font-size="3" text-anchor="end" fill="#777">20</text>
<text x="118.10" y="295.20" font-size="3" text-anchor="end" fill="#777">40</text>
<text x="118.10" y="286.70" font-size="3" text-anchor="end" fill="#777">60</text>
<text x="118.10" y="278.20" font-size="3" text-anchor="end" fill="#777">80</text>
<text x="118.10" y="269.70" font-size="3" text-anchor="end" fill="#777">100</text>
<text x="120.30" y="315.50" font-size="3" text-anchor="middle" fill="#777">10<tspan dy="-1.1" font-size="2">0</tspan></text>
<text x="130.95" y="315.50" font-size="3" text-anchor="middle" fill="#777">10<tspan dy="-1.1" font-size="2">1</tspan></text>
<text x="141.60" y="315.50" font-size="3" text-anchor="middle" fill="#777">10<tspan dy="-1.1" font-size="2">2</tspan></text>
<text x="152.25" y="315.50" font-size="3" text-anchor="middle" fill="#777">10<tspan dy="-1.1" font-size="2">3</tspan></text>
<text x="162.90" y="315.50" font-size="3" text-anchor="middle" fill="#777">10<tspan dy="-1.1" font-size="2">4</tspan></text>
<text transform="translate(114.90,289.85) rotate(-90)" font-size="2.8" text-anchor="middle" fill="#888">Counts</text>
<text x="195.55" y="262.60" font-size="9" text-anchor="middle" font-weight="normal" fill="#000" >Gr-1</text>
<path d="M175.15 310.20 L175.60 310.20 L176.06 310.20 L176.51 310.20 L176.96 308.44 L177.42 305.82 L177.87 303.20 L178.32 300.57 L178.78 297.95 L179.23 295.33 L179.68 292.71 L180.14 290.08 L180.21 289.66 L180.29 289.19 L180.37 288.72 L180.58 287.54 L180.59 287.46 L181.04 284.84 L181.19 284.00 L181.50 282.21 L181.80 280.46 L181.95 279.59 L181.96 279.51 L182.40 276.97 L182.78 274.79 L182.86 275.35 L182.90 275.68 L183.23 278.04 L183.31 278.63 L183.72 281.58 L183.76 281.91 L184.22 285.18 L184.67 288.46 L185.12 291.74 L185.58 295.02 L186.03 298.30 L186.48 301.58 L186.70 303.12 L186.94 304.86 L187.39 308.13 L187.84 310.20 L188.30 310.20 L188.75 310.20 L188.94 310.20 L189.20 310.20 L189.66 310.20 L190.11 310.20 L190.56 310.20 L190.65 310.20 L191.02 310.20 L191.47 310.20 L191.92 310.20 L192.38 310.20 L192.83 310.20 L193.28 310.20 L193.74 310.20 L194.19 310.20 L194.33 310.20 L194.64 310.20 L195.10 310.20 L195.55 310.20 L196.00 310.20 L196.46 310.20 L196.91 310.20 L197.36 310.20 L197.82 310.20 L198.27 310.20 L198.72 310.20 L199.18 310.20 L199.63 310.20 L200.08 310.20 L200.32 310.20 L200.54 310.20 L200.85 310.20 L200.99 310.20 L201.44 310.20 L201.90 310.20 L202.16 310.20 L202.35 310.20 L202.80 310.20 L203.26 310.20 L203.71 310.20 L204.16 310.20 L204.62 310.20 L205.07 310.20 L205.52 310.20 L205.98 310.20 L206.43 310.20 L206.88 310.20 L207.34 310.20 L207.79 310.20 L208.24 310.20 L208.70 310.20 L209.15 310.20 L209.60 310.20 L210.06 310.20 L210.51 310.20 L210.96 310.20 L211.42 310.20 L211.87 310.20 L212.32 310.20 L212.78 310.20 L213.23 310.20 L213.68 310.20 L214.14 310.20 L214.59 310.20 L215.04 310.20 L215.50 310.20 L215.95 310.20 L215.95 310.20 L175.15 310.20 Z" fill="#c0c0c0" stroke="none"/>
<path d="M175.15 309.03 L175.60 308.33 L176.06 307.46 L176.51 306.43 L176.96 305.24 L177.42 303.88 L177.87 302.36 L178.32 300.67 L178.78 298.82 L179.23 296.81 L179.68 294.63 L180.14 292.29 L180.21 291.90 L180.29 291.45 L180.37 291.00 L180.58 289.86 L180.59 289.78 L181.04 287.11 L181.19 286.22 L181.50 284.28 L181.80 282.29 L181.95 281.28 L181.96 281.19 L182.40 278.12 L182.78 275.37 L182.86 274.79 L182.90 274.45 L183.23 271.94 L183.31 272.49 L183.72 275.15 L183.76 275.44 L184.22 278.27 L184.67 280.99 L185.12 283.58 L185.58 286.05 L186.03 288.41 L186.48 290.64 L186.70 291.64 L186.94 292.75 L187.39 294.74 L187.84 296.61 L188.30 298.36 L188.75 299.99 L188.94 300.64 L189.20 301.50 L189.66 302.88 L190.11 304.15 L190.56 305.30 L190.65 305.51 L191.02 306.33 L191.47 307.23 L191.92 308.02 L192.38 308.68 L192.83 309.23 L193.28 309.65 L193.74 309.95 L194.19 310.14 L194.33 310.17 L194.64 310.20 L195.10 310.20 L195.55 310.20 L196.00 310.20 L196.46 310.20 L196.91 310.20 L197.36 310.20 L197.82 310.20 L198.27 310.20 L198.72 310.11 L199.18 309.84 L199.63 309.48 L200.08 309.05 L200.32 308.79 L200.54 308.55 L200.85 308.16 L200.99 308.33 L201.44 308.85 L201.90 309.31 L202.16 309.55 L202.35 309.71 L202.80 310.01 L203.26 310.19 L203.71 310.20 L204.16 310.20 L204.62 310.20 L205.07 310.20 L205.52 310.20 L205.98 310.20 L206.43 310.20 L206.88 310.20 L207.34 310.20 L207.79 310.20 L208.24 310.20 L208.70 310.20 L209.15 310.20 L209.60 310.20 L210.06 310.20 L210.51 310.20 L210.96 310.20 L211.42 310.20 L211.87 310.20 L212.32 310.20 L212.78 310.20 L213.23 310.20 L213.68 310.20 L214.14 310.20 L214.59 310.20 L215.04 310.20 L215.50 310.20 L215.95 310.20" fill="none" stroke="#111" stroke-width="0.9" stroke-linejoin="round"/>
<rect x="174.25" y="268.60" width="42.60" height="42.50" fill="none" stroke="#000" stroke-width="1.6"/>
<text x="172.05" y="312.20" font-size="3" text-anchor="end" fill="#777">0</text>
<text x="172.05" y="303.70" font-size="3" text-anchor="end" fill="#777">20</text>
<text x="172.05" y="295.20" font-size="3" text-anchor="end" fill="#777">40</text>
<text x="172.05" y="286.70" font-size="3" text-anchor="end" fill="#777">60</text>
<text x="172.05" y="278.20" font-size="3" text-anchor="end" fill="#777">80</text>
<text x="172.05" y="269.70" font-size="3" text-anchor="end" fill="#777">100</text>
<text x="174.25" y="315.50" font-size="3" text-anchor="middle" fill="#777">10<tspan dy="-1.1" font-size="2">0</tspan></text>
<text x="184.90" y="315.50" font-size="3" text-anchor="middle" fill="#777">10<tspan dy="-1.1" font-size="2">1</tspan></text>
<text x="195.55" y="315.50" font-size="3" text-anchor="middle" fill="#777">10<tspan dy="-1.1" font-size="2">2</tspan></text>
<text x="206.20" y="315.50" font-size="3" text-anchor="middle" fill="#777">10<tspan dy="-1.1" font-size="2">3</tspan></text>
<text x="216.85" y="315.50" font-size="3" text-anchor="middle" fill="#777">10<tspan dy="-1.1" font-size="2">4</tspan></text>
<text transform="translate(168.85,289.85) rotate(-90)" font-size="2.8" text-anchor="middle" fill="#888">Counts</text>
<rect x="261.90" y="196.40" width="134.50" height="103.30" fill="none" stroke="#8a8a8a" stroke-width="1"/>
<path d="M262.0 300.0 L264.0 290.0 L266.5 283.0 L268.7 280.7 L271.0 273.0 L273.0 267.0 L275.0 262.9 L277.0 256.0 L278.5 245.0 L280.0 233.0 L281.5 222.0 L283.0 213.0 L284.8 207.5 L286.5 212.0 L288.0 220.0 L290.0 232.0 L292.0 243.0 L294.6 245.0 L296.5 258.0 L299.0 271.7 L302.0 278.0 L306.2 284.2 L309.0 288.0 L312.5 292.5 L316.7 297.0 L320.0 299.5 Z" fill="#dddbdd"/>
<line x1="258.30" y1="299.70" x2="261.90" y2="299.70" stroke="#555" stroke-width="0.8" />
<text x="257.00" y="301.90" font-size="6" text-anchor="end" font-weight="normal" fill="#222" >0</text>
<line x1="258.30" y1="280.00" x2="261.90" y2="280.00" stroke="#555" stroke-width="0.8" />
<text x="257.00" y="282.20" font-size="6" text-anchor="end" font-weight="normal" fill="#222" >20</text>
<line x1="258.30" y1="260.30" x2="261.90" y2="260.30" stroke="#555" stroke-width="0.8" />
<text x="257.00" y="262.50" font-size="6" text-anchor="end" font-weight="normal" fill="#222" >40</text>
<line x1="258.30" y1="240.60" x2="261.90" y2="240.60" stroke="#555" stroke-width="0.8" />
<text x="257.00" y="242.80" font-size="6" text-anchor="end" font-weight="normal" fill="#222" >60</text>
<line x1="258.30" y1="220.90" x2="261.90" y2="220.90" stroke="#555" stroke-width="0.8" />
<text x="257.00" y="223.10" font-size="6" text-anchor="end" font-weight="normal" fill="#222" >80</text>
<line x1="258.30" y1="201.20" x2="261.90" y2="201.20" stroke="#555" stroke-width="0.8" />
<text x="257.00" y="203.40" font-size="6" text-anchor="end" font-weight="normal" fill="#222" >100</text>
<line x1="260.10" y1="294.77" x2="261.90" y2="294.77" stroke="#666" stroke-width="0.7" />
<line x1="260.10" y1="289.85" x2="261.90" y2="289.85" stroke="#666" stroke-width="0.7" />
<line x1="260.10" y1="284.93" x2="261.90" y2="284.93" stroke="#666" stroke-width="0.7" />
<line x1="260.10" y1="275.07" x2="261.90" y2="275.07" stroke="#666" stroke-width="0.7" />
<line x1="260.10" y1="270.15" x2="261.90" y2="270.15" stroke="#666" stroke-width="0.7" />
<line x1="260.10" y1="265.22" x2="261.90" y2="265.22" stroke="#666" stroke-width="0.7" />
<line x1="260.10" y1="255.38" x2="261.90" y2="255.38" stroke="#666" stroke-width="0.7" />
<line x1="260.10" y1="250.45" x2="261.90" y2="250.45" stroke="#666" stroke-width="0.7" />
<line x1="260.10" y1="245.52" x2="261.90" y2="245.52" stroke="#666" stroke-width="0.7" />
<line x1="260.10" y1="235.67" x2="261.90" y2="235.67" stroke="#666" stroke-width="0.7" />
<line x1="260.10" y1="230.75" x2="261.90" y2="230.75" stroke="#666" stroke-width="0.7" />
<line x1="260.10" y1="225.82" x2="261.90" y2="225.82" stroke="#666" stroke-width="0.7" />
<line x1="260.10" y1="215.97" x2="261.90" y2="215.97" stroke="#666" stroke-width="0.7" />
<line x1="260.10" y1="211.05" x2="261.90" y2="211.05" stroke="#666" stroke-width="0.7" />
<line x1="260.10" y1="206.12" x2="261.90" y2="206.12" stroke="#666" stroke-width="0.7" />
<line x1="261.90" y1="299.70" x2="396.40" y2="299.70" stroke="#555" stroke-width="1" />
<line x1="261.90" y1="299.70" x2="261.90" y2="302.20" stroke="#555" stroke-width="0.8" />
<text x="261.10" y="310.3" font-size="6" text-anchor="middle" fill="#222">10<tspan dy="-2.8" font-size="4">0</tspan></text>
<line x1="272.02" y1="299.70" x2="272.02" y2="301.10" stroke="#666" stroke-width="0.6" />
<line x1="277.94" y1="299.70" x2="277.94" y2="301.10" stroke="#666" stroke-width="0.6" />
<line x1="282.14" y1="299.70" x2="282.14" y2="301.10" stroke="#666" stroke-width="0.6" />
<line x1="285.40" y1="299.70" x2="285.40" y2="301.10" stroke="#666" stroke-width="0.6" />
<line x1="288.07" y1="299.70" x2="288.07" y2="301.10" stroke="#666" stroke-width="0.6" />
<line x1="290.32" y1="299.70" x2="290.32" y2="301.10" stroke="#666" stroke-width="0.6" />
<line x1="292.27" y1="299.70" x2="292.27" y2="301.10" stroke="#666" stroke-width="0.6" />
<line x1="293.99" y1="299.70" x2="293.99" y2="301.10" stroke="#666" stroke-width="0.6" />
<line x1="295.52" y1="299.70" x2="295.52" y2="302.20" stroke="#555" stroke-width="0.8" />
<text x="294.72" y="310.3" font-size="6" text-anchor="middle" fill="#222">10<tspan dy="-2.8" font-size="4">1</tspan></text>
<line x1="305.65" y1="299.70" x2="305.65" y2="301.10" stroke="#666" stroke-width="0.6" />
<line x1="311.57" y1="299.70" x2="311.57" y2="301.10" stroke="#666" stroke-width="0.6" />
<line x1="315.77" y1="299.70" x2="315.77" y2="301.10" stroke="#666" stroke-width="0.6" />
<line x1="319.03" y1="299.70" x2="319.03" y2="301.10" stroke="#666" stroke-width="0.6" />
<line x1="321.69" y1="299.70" x2="321.69" y2="301.10" stroke="#666" stroke-width="0.6" />
<line x1="323.94" y1="299.70" x2="323.94" y2="301.10" stroke="#666" stroke-width="0.6" />
<line x1="325.89" y1="299.70" x2="325.89" y2="301.10" stroke="#666" stroke-width="0.6" />
<line x1="327.61" y1="299.70" x2="327.61" y2="301.10" stroke="#666" stroke-width="0.6" />
<line x1="329.15" y1="299.70" x2="329.15" y2="302.20" stroke="#555" stroke-width="0.8" />
<text x="328.35" y="310.3" font-size="6" text-anchor="middle" fill="#222">10<tspan dy="-2.8" font-size="4">2</tspan></text>
<line x1="339.27" y1="299.70" x2="339.27" y2="301.10" stroke="#666" stroke-width="0.6" />
<line x1="345.19" y1="299.70" x2="345.19" y2="301.10" stroke="#666" stroke-width="0.6" />
<line x1="349.39" y1="299.70" x2="349.39" y2="301.10" stroke="#666" stroke-width="0.6" />
<line x1="352.65" y1="299.70" x2="352.65" y2="301.10" stroke="#666" stroke-width="0.6" />
<line x1="355.32" y1="299.70" x2="355.32" y2="301.10" stroke="#666" stroke-width="0.6" />
<line x1="357.57" y1="299.70" x2="357.57" y2="301.10" stroke="#666" stroke-width="0.6" />
<line x1="359.52" y1="299.70" x2="359.52" y2="301.10" stroke="#666" stroke-width="0.6" />
<line x1="361.24" y1="299.70" x2="361.24" y2="301.10" stroke="#666" stroke-width="0.6" />
<line x1="362.77" y1="299.70" x2="362.77" y2="302.20" stroke="#555" stroke-width="0.8" />
<text x="361.97" y="310.3" font-size="6" text-anchor="middle" fill="#222">10<tspan dy="-2.8" font-size="4">3</tspan></text>
<line x1="372.90" y1="299.70" x2="372.90" y2="301.10" stroke="#666" stroke-width="0.6" />
<line x1="378.82" y1="299.70" x2="378.82" y2="301.10" stroke="#666" stroke-width="0.6" />
<line x1="383.02" y1="299.70" x2="383.02" y2="301.10" stroke="#666" stroke-width="0.6" />
<line x1="386.28" y1="299.70" x2="386.28" y2="301.10" stroke="#666" stroke-width="0.6" />
<line x1="388.94" y1="299.70" x2="388.94" y2="301.10" stroke="#666" stroke-width="0.6" />
<line x1="391.19" y1="299.70" x2="391.19" y2="301.10" stroke="#666" stroke-width="0.6" />
<line x1="393.14" y1="299.70" x2="393.14" y2="301.10" stroke="#666" stroke-width="0.6" />
<line x1="394.86" y1="299.70" x2="394.86" y2="301.10" stroke="#666" stroke-width="0.6" />
<line x1="396.40" y1="299.70" x2="396.40" y2="302.20" stroke="#555" stroke-width="0.8" />
<text x="395.60" y="310.3" font-size="6" text-anchor="middle" fill="#222">10<tspan dy="-2.8" font-size="4">4</tspan></text>
<path d="M262.0 292.3 L264.2 286.0 L266.5 280.0 L270.3 271.8 L273.4 262.0 L276.5 245.0 L278.2 237.0 L279.4 229.0 L281.2 220.0 L282.5 215.0 L283.9 211.0 L285.0 206.0 L285.7 203.5 L287.5 205.0 L288.5 202.8 L290.0 203.5 L291.0 202.5 L292.0 206.0 L293.7 218.2 L295.0 222.0 L296.4 230.7 L298.0 236.0 L300.0 243.2 L302.6 255.0 L305.3 266.4 L308.3 275.8 L310.7 280.7 L314.6 288.3 L317.0 293.2 L320.8 294.6 L325.0 297.5 L329.2 299.0 L340.0 299.3 L396.0 299.3" fill="none" stroke="#c8553a" stroke-width="1"/>
<path d="M262.0 288.8 L262.5 286.0 L264.0 280.0 L266.0 271.8 L268.7 262.9 L271.4 255.0 L272.3 245.0 L273.5 236.0 L274.4 230.7 L275.5 222.0 L276.4 215.5 L277.8 208.0 L279.4 203.0 L280.5 202.4 L281.5 204.0 L282.5 202.5 L283.3 205.0 L284.8 202.5 L285.5 207.0 L286.6 214.6 L288.0 220.0 L290.1 230.7 L291.5 237.0 L292.8 243.2 L294.6 248.6 L295.5 255.7 L298.0 257.0 L300.0 257.0 L302.0 256.0 L304.0 257.5 L306.0 256.0 L308.0 258.0 L310.0 256.5 L313.5 254.0 L315.0 256.0 L317.0 255.0 L319.0 253.0 L320.8 249.8 L322.0 252.0 L323.5 252.5 L325.0 254.0 L327.0 258.0 L330.2 265.4 L332.0 271.0 L334.4 277.9 L337.0 284.0 L339.6 289.4 L342.0 293.0 L345.8 295.6 L350.0 297.5 L353.0 299.0 L360.0 299.4" fill="none" stroke="#3a4fb0" stroke-width="1"/>
<text transform="translate(243.8,250.75) rotate(-90)" font-size="9.2" text-anchor="middle">count</text>
<text x="327.4" y="322.8" font-size="9" text-anchor="middle" stroke="#000" stroke-width="0.12">CD45<tspan dy="-3" font-size="5.5">+</tspan><tspan dy="3">CD11b</tspan><tspan dy="-3" font-size="5.5">+</tspan><tspan dy="3">-CFSE</tspan></text>
<line x1="451.90" y1="174.00" x2="451.90" y2="304.45" stroke="#000" stroke-width="1.5" />
<line x1="451.15" y1="303.70" x2="520.00" y2="303.70" stroke="#000" stroke-width="1.5" />
<line x1="448.50" y1="303.70" x2="451.90" y2="303.70" stroke="#000" stroke-width="1.2" />
<text x="447.30" y="306.50" font-size="8.6" text-anchor="end" font-weight="normal" fill="#000" >0</text>
<line x1="448.50" y1="280.06" x2="451.90" y2="280.06" stroke="#000" stroke-width="1.2" />
<text x="447.30" y="282.86" font-size="8.6" text-anchor="end" font-weight="normal" fill="#000" >0.2</text>
<line x1="448.50" y1="256.42" x2="451.90" y2="256.42" stroke="#000" stroke-width="1.2" />
<text x="447.30" y="259.22" font-size="8.6" text-anchor="end" font-weight="normal" fill="#000" >0.4</text>
<line x1="448.50" y1="232.78" x2="451.90" y2="232.78" stroke="#000" stroke-width="1.2" />
<text x="447.30" y="235.58" font-size="8.6" text-anchor="end" font-weight="normal" fill="#000" >0.6</text>
<line x1="448.50" y1="209.14" x2="451.90" y2="209.14" stroke="#000" stroke-width="1.2" />
<text x="447.30" y="211.94" font-size="8.6" text-anchor="end" font-weight="normal" fill="#000" >0.8</text>
<line x1="448.50" y1="185.50" x2="451.90" y2="185.50" stroke="#000" stroke-width="1.2" />
<text x="447.30" y="188.30" font-size="8.6" text-anchor="end" font-weight="normal" fill="#000" >1</text>
<line x1="474.30" y1="303.70" x2="474.30" y2="307.20" stroke="#000" stroke-width="1.2" />
<line x1="496.90" y1="303.70" x2="496.90" y2="307.20" stroke="#000" stroke-width="1.2" />
<line x1="519.50" y1="303.70" x2="519.50" y2="307.20" stroke="#000" stroke-width="1.2" />
<line x1="460.10" y1="185.50" x2="460.10" y2="175.00" stroke="#000" stroke-width="1.1" />
<line x1="459.10" y1="175.00" x2="461.10" y2="175.00" stroke="#000" stroke-width="1.1" />
<rect x="457.00" y="186.00" width="6.70" height="117.70" fill="#fff" stroke="#000" stroke-width="1.0"/>
<line x1="482.40" y1="185.50" x2="482.40" y2="175.70" stroke="#000" stroke-width="1.1" />
<line x1="481.40" y1="175.70" x2="483.40" y2="175.70" stroke="#000" stroke-width="1.1" />
<rect x="479.30" y="186.00" width="6.70" height="117.70" fill="#fff" stroke="#000" stroke-width="1.0"/>
<line x1="505.00" y1="185.50" x2="505.00" y2="176.40" stroke="#000" stroke-width="1.1" />
<line x1="504.00" y1="176.40" x2="506.00" y2="176.40" stroke="#000" stroke-width="1.1" />
<rect x="501.90" y="186.00" width="6.70" height="117.70" fill="#fff" stroke="#000" stroke-width="1.0"/>
<rect x="463.60" y="244.40" width="6.90" height="59.30" fill="#000" stroke="none" stroke-width="0"/>
<line x1="467.05" y1="244.40" x2="467.05" y2="240.00" stroke="#000" stroke-width="1.1" />
<line x1="465.50" y1="240.00" x2="468.60" y2="240.00" stroke="#000" stroke-width="1.1" />
<rect x="486.00" y="298.40" width="6.90" height="5.30" fill="#000" stroke="none" stroke-width="0"/>
<rect x="508.60" y="291.50" width="6.90" height="12.20" fill="#000" stroke="none" stroke-width="0"/>
<text transform="translate(425.9,243.6) rotate(-90)" font-size="8.8" text-anchor="middle">relative expression</text>
<text transform="translate(474.0,312.8) rotate(-58)" font-size="8.6" text-anchor="end" stroke="#000" stroke-width="0.12">SDF-1</text>
<text transform="translate(496.2,313.0) rotate(-58)" font-size="8.6" text-anchor="end" stroke="#000" stroke-width="0.12">MCP-1</text>
<text transform="translate(517.0,313.0) rotate(-58)" font-size="8.6" text-anchor="end" stroke="#000" stroke-width="0.12">MIP-1α</text>
</svg></body></html>
